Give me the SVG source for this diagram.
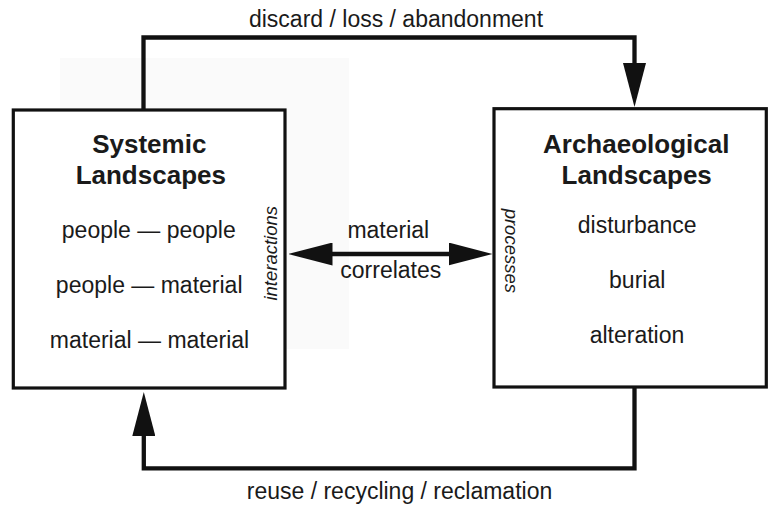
<svg xmlns="http://www.w3.org/2000/svg" width="770" height="507" viewBox="0 0 770 507">
<style>
  text { font-family: "Liberation Sans", Arial, sans-serif; fill: #1a1a1a; }
  .title { font-size: 26px; font-weight: bold; text-anchor: middle; }
  .item { font-size: 23px; text-anchor: middle; }
  .label { font-size: 23px; text-anchor: middle; }
  .side { font-size: 18.5px; font-style: italic; text-anchor: middle; }
  .box { fill: #ffffff; stroke: #111111; stroke-width: 3.2; }
  .conn { fill: none; stroke: #111111; stroke-width: 4.3; stroke-linejoin: miter; }
</style>
<defs>
  <marker id="arrow" viewBox="0 0 44 23" refX="24" refY="11.5" markerWidth="44" markerHeight="23" markerUnits="userSpaceOnUse" orient="auto-start-reverse">
    <path d="M0,0 L44,11.5 L0,23 Z" fill="#111111"/>
  </marker>
</defs>
<rect width="770" height="507" fill="#ffffff"/>
<rect x="60" y="58" width="289" height="291" fill="#fafafa"/>

<g id="connectors">
  <path class="conn" d="M143.5,110 V37.5 H634.5 V87" marker-end="url(#arrow)"/>
  <path class="conn" d="M634.5,388 V468.3 H143.8 V412" marker-end="url(#arrow)"/>
  <path class="conn" d="M308.5,254 H472.5" marker-start="url(#arrow)" marker-end="url(#arrow)"/>
  <text class="label" x="396" y="26.7">discard / loss / abandonment</text>
  <text class="label" x="399.5" y="499.3">reuse / recycling / reclamation</text>
  <text class="label" x="388.3" y="238.3">material</text>
  <text class="label" x="390.8" y="277.5">correlates</text>
</g>

<g id="systemic">
  <rect class="box" x="13.3" y="110" width="271.7" height="278"/>
  <text class="title" x="149.3" y="153.3">Systemic</text>
  <text class="title" x="150.8" y="184.3">Landscapes</text>
  <text class="item" x="148.8" y="238">people — people</text>
  <text class="item" x="149.2" y="293.3">people — material</text>
  <text class="item" x="149.5" y="348.3">material — material</text>
  <text class="side" transform="translate(277,253.3) rotate(-90)">interactions</text>
</g>

<g id="archaeological">
  <rect class="box" x="494" y="108.7" width="272.3" height="278.3"/>
  <text class="title" x="636.2" y="153.3">Archaeological</text>
  <text class="title" x="636.7" y="184.3">Landscapes</text>
  <text class="item" x="637.2" y="233.3">disturbance</text>
  <text class="item" x="637.2" y="288.3">burial</text>
  <text class="item" x="637" y="343.3">alteration</text>
  <text class="side" transform="translate(504.5,250.8) rotate(90)">processes</text>
</g>
</svg>
